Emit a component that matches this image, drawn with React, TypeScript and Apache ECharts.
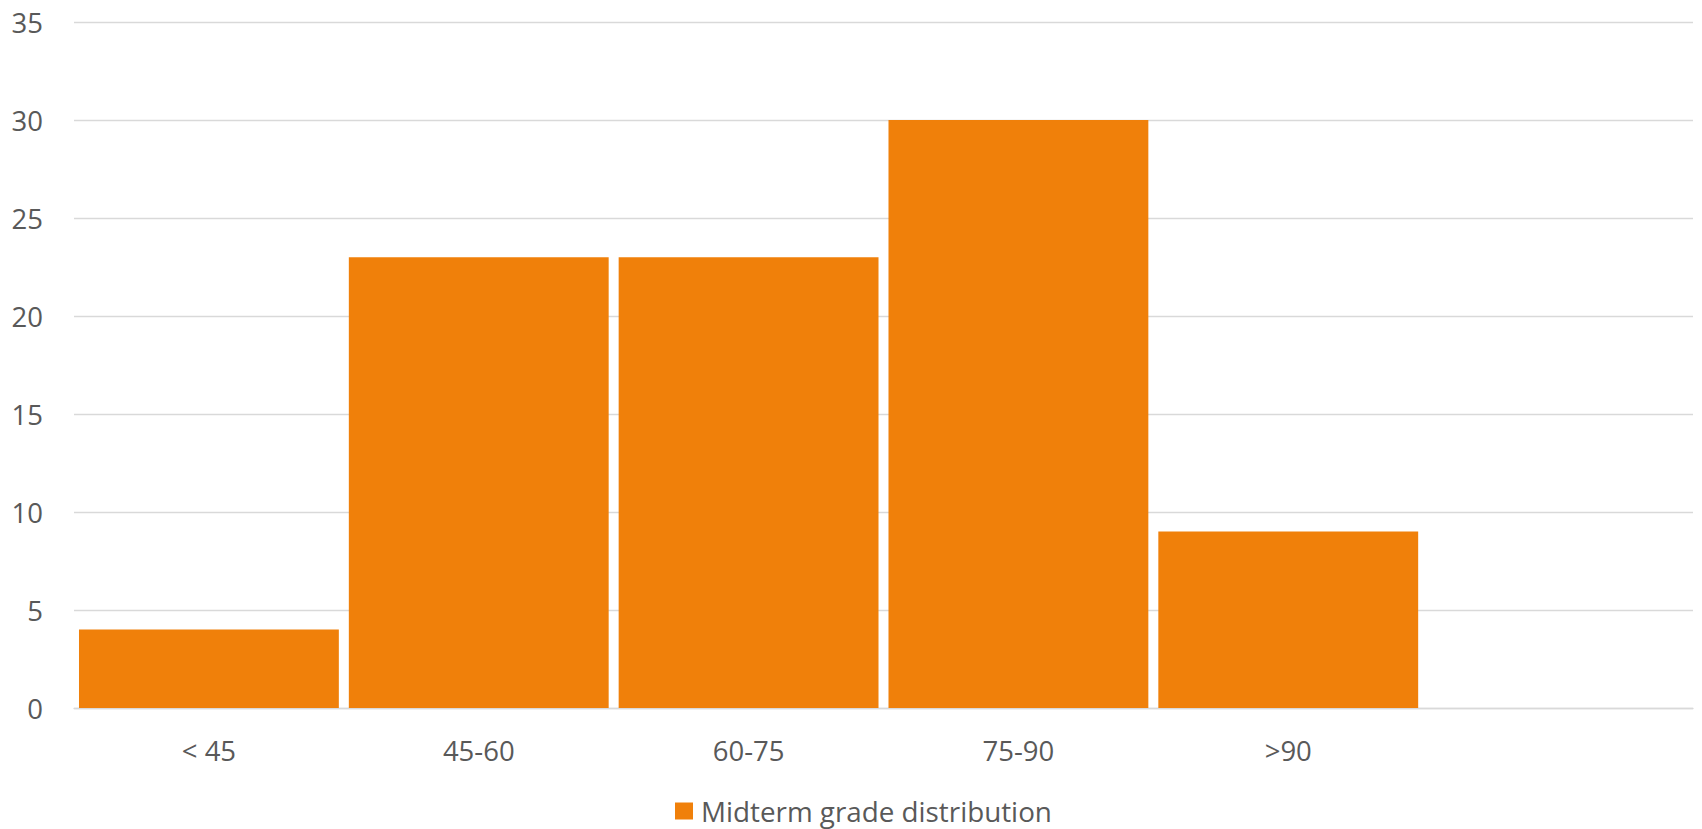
import React, { useEffect, useRef } from "react";
import * as echarts from "echarts";

const categories = ["< 45", "45-60", "60-75", "75-90", ">90", ""];
const gradeCounts = [4, 23, 23, 30, 9];
const seriesName = "Midterm grade distribution";

export default function App() {
  const ref = useRef<HTMLDivElement>(null);
  useEffect(() => {
    if (!ref.current) return;
    const chart = echarts.init(ref.current, undefined, { renderer: "svg" });
    const font = "'Open Sans', 'DejaVu Sans', sans-serif";
    chart.setOption({
      animation: false,
      backgroundColor: "#ffffff",
      textStyle: { fontFamily: font },
      grid: { left: 74, right: 9, top: 22, bottom: 121 },
      legend: {
        left: 675,
        top: 797,
        padding: 0,
        itemWidth: 18,
        itemHeight: 17,
        icon: "rect",
        data: [seriesName],
        textStyle: {
          fontFamily: font,
          fontSize: 27.8,
          color: "#595959",
          lineHeight: 27,
          padding: [0, 0, 0, 3],
        },
      },
      xAxis: {
        type: "category",
        data: categories,
        axisTick: { show: false },
        axisLine: { lineStyle: { color: "#D9D9D9", width: 1.3 } },
        axisLabel: {
          fontFamily: font,
          fontSize: 27.5,
          color: "#595959",
          margin: 28,
          interval: 0,
        },
      },
      yAxis: {
        type: "value",
        min: 0,
        max: 35,
        interval: 5,
        axisLine: { show: false },
        axisTick: { show: false },
        splitLine: { lineStyle: { color: "#D9D9D9", width: 1.3 } },
        axisLabel: {
          fontFamily: font,
          fontSize: 27.5,
          color: "#595959",
          margin: 31,
        },
      },
      series: [
        {
          name: seriesName,
          type: "bar",
          data: gradeCounts,
          barCategoryGap: "3.7%",
          itemStyle: { color: "#F0800A" },
        },
      ],
    });
    return () => chart.dispose();
  }, []);
  return (
    <div
      ref={ref}
      style={{ position: "fixed", left: 0, top: 0, width: 1702, height: 829 }}
    />
  );
}
